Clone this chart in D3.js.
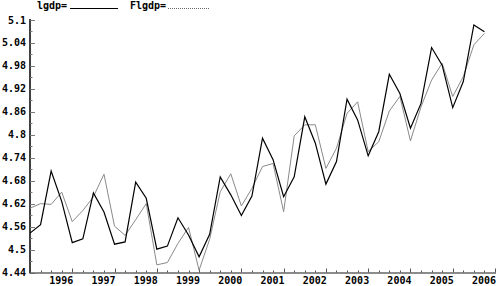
<!DOCTYPE html>
<html>
<head>
<meta charset="utf-8">
<script src="https://cdn.jsdelivr.net/npm/d3@7"></script>
<style>
body { margin: 0; background: #fff; }
text { font-family: "DejaVu Sans Mono", monospace; font-weight: bold; font-size: 10px; }
</style>
</head>
<body>
<div id="chart"></div>
<script>

var width = 501,
    height = 286;

// quarterly, 1995Q1 .. 2005Q4
var startYear = 1995;
var lgdp = [4.543, 4.565, 4.705, 4.626, 4.518, 4.528, 4.648, 4.598,
            4.514, 4.520, 4.676, 4.634, 4.501, 4.509, 4.583, 4.538,
            4.481, 4.540, 4.690, 4.643, 4.589, 4.640, 4.791, 4.735,
            4.638, 4.690, 4.847, 4.778, 4.671, 4.730, 4.893, 4.839,
            4.745, 4.808, 4.958, 4.908, 4.817, 4.882, 5.028, 4.982,
            4.871, 4.939, 5.087, 5.069];
var flgdp = [4.608, 4.620, 4.618, 4.650, 4.573, 4.602, 4.638, 4.697,
             4.561, 4.537, 4.578, 4.620, 4.460, 4.466, 4.516, 4.558,
             4.446, 4.527, 4.651, 4.698, 4.614, 4.660, 4.717, 4.725,
             4.599, 4.797, 4.826, 4.826, 4.712, 4.765, 4.856, 4.886,
             4.756, 4.782, 4.862, 4.900, 4.784, 4.873, 4.943, 4.987,
             4.900, 4.952, 5.035, 5.065];
var yearTicks = [1996, 1997, 1998, 1999, 2000, 2001, 2002, 2003, 2004, 2005, 2006];
var yTicks = [4.44, 4.5, 4.56, 4.62, 4.68, 4.74, 4.8, 4.86, 4.92, 4.98, 5.04, 5.1];

var plotLeft = 30, plotRight = 495, plotTop = 20, plotBottom = 272.5;

var svg = d3.select("#chart").append("svg")
    .attr("width", width)
    .attr("height", height);

var x = d3.scaleLinear().domain([startYear, 2006]).range([plotLeft, plotRight]);
var y = d3.scaleLinear().domain([4.44, 5.1]).range([plotBottom, plotTop]);

var t = function(i) { return startYear + i / 4; };

//y axis
svg.append("line")
    .attr("x1", plotLeft).attr("y1", plotTop - 1)
    .attr("x2", plotLeft).attr("y2", plotBottom + 1)
    .attr("stroke", "#000")
    .attr("stroke-width", 1.5);

var minorY = d3.range(yTicks.length - 1).map(function(k) { return (yTicks[k] + yTicks[k + 1]) / 2; });

svg.selectAll(".ytick").data(yTicks).enter().append("line")
    .attr("x1", plotLeft).attr("x2", plotLeft + 5)
    .attr("y1", function(d) { return Math.round(y(d)) + 0.5; })
    .attr("y2", function(d) { return Math.round(y(d)) + 0.5; })
    .attr("stroke", "#777");

svg.selectAll(".yminor").data(minorY).enter().append("line")
    .attr("x1", plotLeft).attr("x2", plotLeft + 2.5)
    .attr("y1", function(d) { return Math.round(y(d)) + 0.5; })
    .attr("y2", function(d) { return Math.round(y(d)) + 0.5; })
    .attr("stroke", "#777");

svg.selectAll(".ylab").data(yTicks).enter().append("text")
    .attr("x", plotLeft - 4)
    .attr("y", function(d) { return y(d) + 3.5; })
    .attr("text-anchor", "end")
    .text(d3.format(".2~f"));

//x axis
svg.append("line")
    .attr("x1", plotLeft).attr("y1", plotBottom + 0.5)
    .attr("x2", plotRight + 1).attr("y2", plotBottom + 0.5)
    .attr("stroke", "#666")
    .attr("stroke-width", 1.5);

var quarters = d3.range(1, 45).map(t);

svg.selectAll(".xminor").data(quarters).enter().append("line")
    .attr("x1", function(d) { return Math.round(x(d)) + 0.5; })
    .attr("x2", function(d) { return Math.round(x(d)) + 0.5; })
    .attr("y1", plotBottom)
    .attr("y2", function(d) { return d % 1 === 0 ? plotBottom - 4 : plotBottom - 2; })
    .attr("stroke", "#555");

svg.selectAll(".xlab").data(yearTicks).enter().append("text")
    .attr("x", function(d) { return x(d) + 1; })
    .attr("y", plotBottom + 11)
    .attr("text-anchor", "end")
    .text(function(d) { return d; });

//series
var line = function(vals) {
    return d3.line()
        .x(function(d, i) { return x(t(i)); })
        .y(function(d) { return y(d); })(vals);
};

svg.append("path")
    .attr("d", line(flgdp))
    .attr("fill", "none")
    .attr("stroke", "#8a8a8a")
    .attr("stroke-width", 1);

svg.append("path")
    .attr("d", line(lgdp))
    .attr("fill", "none")
    .attr("stroke", "#000")
    .attr("stroke-width", 1.2);

//legend
svg.append("text").attr("x", 37).attr("y", 9).text("lgdp=");
svg.append("line")
    .attr("x1", 70).attr("y1", 8.5).attr("x2", 118).attr("y2", 8.5)
    .attr("stroke", "#000");

svg.append("text").attr("x", 130).attr("y", 9).text("Flgdp=");
svg.append("line")
    .attr("x1", 168).attr("y1", 8.5).attr("x2", 210).attr("y2", 8.5)
    .attr("stroke", "#666")
    .attr("stroke-dasharray", "1,1");

</script>
</body>
</html>
